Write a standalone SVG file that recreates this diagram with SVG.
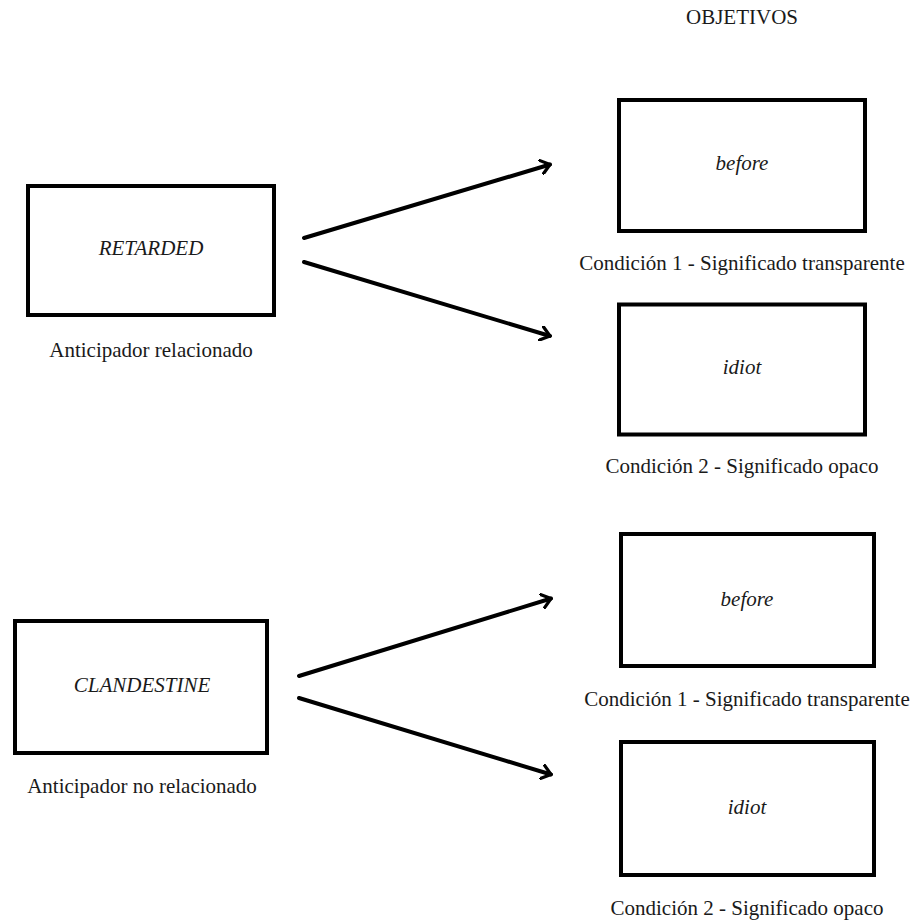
<svg xmlns="http://www.w3.org/2000/svg" width="917" height="921" viewBox="0 0 917 921">
  <defs>
    <marker id="chev" viewBox="0 0 12 16" refX="10" refY="8" markerWidth="12" markerHeight="16" markerUnits="userSpaceOnUse" orient="auto">
      <path d="M1,1 L10,8 L1,15" fill="none" stroke="#000" stroke-width="3.2" stroke-linecap="round" stroke-linejoin="round"/>
    </marker>
  </defs>
  <style>
    .box { fill: #fff; stroke: #000; stroke-width: 4; }
    .word { font-family: "Liberation Serif", "Times New Roman", serif; font-style: italic; font-size: 21px; fill: #1a1a1a; text-anchor: middle; }
    .cap { font-family: "Liberation Serif", "Times New Roman", serif; font-size: 21px; fill: #1a1a1a; text-anchor: middle; }
    .conn line { stroke: #000; stroke-width: 4; stroke-linecap: round; marker-end: url(#chev); }
  </style>
  <rect width="917" height="921" fill="#fff"/>

  <text class="cap" x="742" y="24">OBJETIVOS</text>

  <!-- related prime and its targets -->
  <g id="prime-related">
    <rect class="box" x="28" y="186" width="246" height="129"/>
    <text class="word" x="151" y="255">RETARDED</text>
    <text class="cap" x="151" y="357">Anticipador relacionado</text>
  </g>
  <g id="target-before-1">
    <rect class="box" x="619" y="100" width="246" height="131"/>
    <text class="word" x="742" y="170">before</text>
    <text class="cap" x="742" y="270">Condición 1 - Significado transparente</text>
  </g>
  <g id="target-idiot-1">
    <rect class="box" x="619" y="304.5" width="246" height="130"/>
    <text class="word" x="742" y="374">idiot</text>
    <text class="cap" x="742" y="473">Condición 2 - Significado opaco</text>
  </g>

  <!-- unrelated prime and its targets -->
  <g id="prime-unrelated">
    <rect class="box" x="15" y="621" width="252" height="132"/>
    <text class="word" x="142" y="692">CLANDESTINE</text>
    <text class="cap" x="142" y="793">Anticipador no relacionado</text>
  </g>
  <g id="target-before-2">
    <rect class="box" x="621" y="534" width="253" height="132"/>
    <text class="word" x="747" y="606">before</text>
    <text class="cap" x="747" y="706">Condición 1 - Significado transparente</text>
  </g>
  <g id="target-idiot-2">
    <rect class="box" x="621" y="742" width="253" height="133"/>
    <text class="word" x="747" y="814">idiot</text>
    <text class="cap" x="747" y="915">Condición 2 - Significado opaco</text>
  </g>

  <g id="connectors" class="conn">
    <line x1="304" y1="238" x2="550" y2="164.5"/>
    <line x1="304" y1="262" x2="550" y2="336"/>
    <line x1="299" y1="676" x2="551" y2="598.5"/>
    <line x1="299" y1="698" x2="551" y2="774.5"/>
  </g>
</svg>
